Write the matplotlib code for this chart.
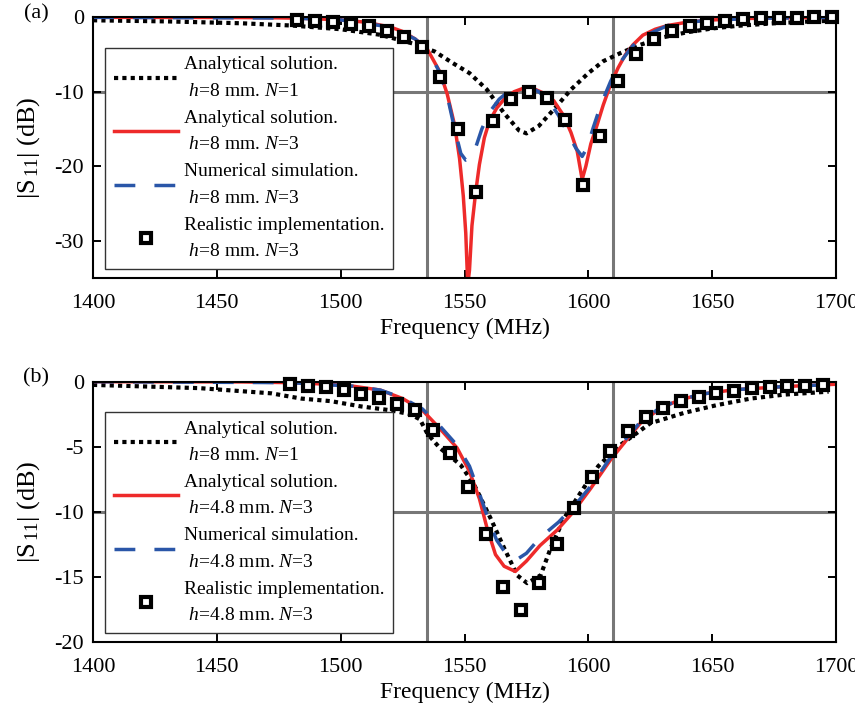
import numpy as np
import matplotlib
matplotlib.use('Agg')
import matplotlib.pyplot as plt

plt.rcParams['font.family'] = ['Liberation Serif', 'DejaVu Serif']
plt.rcParams['mathtext.fontset'] = 'custom'
plt.rcParams['mathtext.rm'] = 'Liberation Serif'
plt.rcParams['mathtext.it'] = 'Liberation Serif:italic'
plt.rcParams['axes.unicode_minus'] = False

# ---------------- Daten Panel (a) ----------------
f_a_n1 = [1400, 1430, 1460, 1480, 1500, 1516, 1530, 1538, 1545, 1552, 1559, 1566, 1572, 1575,
          1580, 1586, 1593, 1600, 1606, 1613, 1620, 1630, 1640, 1650, 1660, 1675, 1690, 1700]
s_a_n1 = [-0.4, -0.55, -0.8, -1.1, -1.6, -2.35, -3.6, -4.6, -6.1, -7.5, -9.7, -12.9, -15.2, -15.6,
          -14.6, -12.4, -9.7, -7.5, -5.9, -4.8, -3.8, -2.7, -2.0, -1.5, -1.15, -0.8, -0.55, -0.45]

f_a_ana = [1400, 1450, 1470, 1480, 1490, 1500, 1510, 1520, 1525, 1530, 1535, 1540, 1543, 1546,
           1548, 1549.5, 1550.5, 1551.3, 1552, 1553, 1554.5, 1556, 1558, 1560, 1563, 1566, 1570,
           1574, 1578, 1582, 1586, 1590, 1593, 1595.5, 1597.5, 1599, 1601, 1603.5, 1606, 1609,
           1612, 1615, 1618, 1622, 1627, 1632, 1640, 1650, 1665, 1680, 1700]
s_a_ana = [0, -0.02, -0.05, -0.1, -0.2, -0.35, -0.65, -1.3, -1.9, -2.9, -4.3, -7.3, -10.3, -14.5,
           -19, -24, -29, -36, -34, -28, -23.5, -19.8, -16.2, -14, -12.2, -11.0, -10.0,
           -9.5, -9.6, -10.2, -11.2, -13.2, -15.5, -18, -21.8, -20.0, -17.0, -14.5, -11.8, -9.0,
           -6.8, -5.0, -3.7, -2.4, -1.6, -1.1, -0.65, -0.35, -0.15, -0.06, 0]

f_a_num = [1400, 1480, 1500, 1520, 1530, 1535, 1540, 1543, 1546, 1548.5, 1550.5, 1552.5, 1554.5,
           1557, 1560, 1564, 1568, 1572, 1576, 1580, 1584, 1588, 1592, 1595, 1597.5, 1599.5, 1602,
           1605, 1609, 1613, 1618, 1624, 1632, 1645, 1665, 1700]
s_a_num = [0, -0.1, -0.35, -1.3, -2.9, -4.3, -7.4, -10.5, -15, -18.3, -19.2, -19, -17.5,
           -15, -12.8, -11, -9.9, -9.3, -9.4, -10, -11.2, -13.2, -15.8, -17.6, -18.7, -17.5, -14.8,
           -11.8, -8.6, -6, -3.8, -2.3, -1.1, -0.5, -0.15, 0]

f_a_meas = [1482.5, 1489.7, 1496.9, 1504.1, 1511.3, 1518.5, 1525.7, 1532.9, 1540.1, 1547.3,
            1554.5, 1561.7, 1568.9, 1576.1, 1583.3, 1590.5, 1597.7, 1604.9, 1612.1, 1619.3,
            1626.5, 1633.7, 1640.9, 1648.1, 1655.3, 1662.5, 1669.7, 1676.9, 1684.1, 1691.3, 1698.5]
s_a_meas = [-0.3, -0.5, -0.65, -0.85, -1.2, -1.8, -2.6, -4.0, -8.0, -15.0,
            -23.5, -14.0, -11.0, -10.1, -10.9, -13.8, -22.6, -15.9, -8.5, -4.9,
            -2.9, -1.8, -1.1, -0.7, -0.45, -0.25, -0.15, -0.08, -0.04, -0.02, -0.02]

# ---------------- Daten Panel (b) ----------------
f_b_n1 = [1400, 1443, 1472, 1484, 1496, 1508, 1520, 1528, 1532, 1535, 1540, 1548.4, 1553.8, 1560.5,
          1566, 1571.3, 1575.3, 1580.7, 1584.8, 1590.2, 1597, 1604, 1612, 1618.5, 1625, 1638.7,
          1652, 1665.6, 1679, 1697]
s_b_n1 = [-0.25, -0.5, -0.9, -1.3, -1.5, -1.9, -2.2, -2.5, -2.9, -4.0, -5.1, -6.4, -7.9, -10.5,
          -12.8, -14.9, -15.5, -14.9, -12.8, -10.5, -8.5, -6.5, -5.0, -4.1, -3.2, -2.4,
          -1.8, -1.3, -1.0, -0.77]

f_b_ana = [1400, 1460, 1480, 1495, 1505, 1516, 1525, 1533, 1540, 1547, 1552, 1556, 1559, 1562.5,
           1566, 1570.5, 1575, 1580.5, 1587.5, 1594, 1601, 1609, 1616, 1621, 1629, 1637, 1646,
           1659, 1679, 1700]
s_b_ana = [0, -0.02, -0.08, -0.2, -0.35, -0.65, -1.3, -2.2, -3.6, -5.1, -6.9, -9.0, -11.2, -13.3,
           -14.2, -14.6, -13.8, -12.6, -11.4, -10.0, -8.2, -6.0, -4.35, -3.2, -2.05, -1.4, -0.95,
           -0.62, -0.38, -0.2]

f_b_num = [1400, 1480, 1505, 1516, 1525, 1533, 1540, 1547, 1552, 1556, 1560, 1563, 1567, 1571,
           1575, 1580.5, 1588, 1595.5, 1602, 1609, 1616, 1621, 1629, 1637, 1646, 1659, 1679, 1700]
s_b_num = [0, -0.08, -0.35, -0.65, -1.25, -2.1, -3.4, -4.9, -6.5, -8.6, -10.8, -12.2, -13.3, -13.7,
           -13.2, -12.0, -10.8, -9.3, -7.8, -5.8, -4.2, -3.1, -2.0, -1.4, -0.95, -0.62, -0.38, -0.2]

f_b_meas = [1479.7, 1486.9, 1494.0, 1501.2, 1508.4, 1515.6, 1522.7, 1529.9, 1537.1, 1544.2,
            1551.4, 1558.6, 1565.7, 1572.9, 1580.1, 1587.2, 1594.4, 1601.6, 1608.7, 1615.9,
            1623.1, 1630.2, 1637.4, 1644.6, 1651.7, 1658.9, 1666.1, 1673.3, 1680.4, 1687.6, 1694.8]
s_b_meas = [-0.2, -0.3, -0.43, -0.64, -0.95, -1.28, -1.7, -2.15, -3.7, -5.5,
            -8.1, -11.7, -15.8, -17.6, -15.5, -12.5, -9.7, -7.3, -5.3, -3.8,
            -2.7, -2.0, -1.5, -1.15, -0.9, -0.7, -0.5, -0.38, -0.33, -0.3, -0.25]

# Band-Grenzen und -10 dB Linie
band_lo, band_hi = 1535, 1610
ref_db = -10

RED = '#ee2a2a'
BLUE = '#2a56a8'
GREY = '#777777'


def panel(ax, data, labels, ylim, yticks):
    (f1, s1), (f2, s2), (f3, s3), (f4, s4) = data
    ax.axvline(band_lo, color=GREY, lw=2.2, zorder=1.5)
    ax.axvline(band_hi, color=GREY, lw=2.2, zorder=1.5)
    ax.axhline(ref_db, color=GREY, lw=2.2, zorder=1.5)
    ax.plot(f1, s1, color='black', lw=3, linestyle=(0, (1, 1)), label=labels[0])
    ax.plot(f2, s2, color=RED, lw=2.5, label=labels[1])
    ax.plot(f3, s3, color=BLUE, lw=2.5, linestyle=(0, (6, 5.5)), label=labels[2])
    ax.plot(f4, s4, 's', ms=7.8, mew=3.0, mec='black', mfc='white', clip_on=False,
            label=labels[3], zorder=3)
    ax.set_xlim(1400, 1700)
    ax.set_ylim(*ylim)
    ax.set_xticks(np.arange(1400, 1701, 50))
    ax.set_yticks(yticks)
    ax.tick_params(direction='in', top=True, right=True, length=5.5, width=1.4,
                   labelsize=16, pad=6.5)
    ax.tick_params(axis='x', pad=12)
    for sp in ax.spines.values():
        sp.set_linewidth(1.5)
    ax.set_xlabel('Frequency (MHz)', fontsize=17, labelpad=3)
    ax.set_ylabel(r'|S$_{\,11}$| (dB)', fontsize=19, labelpad=9)
    leg = ax.legend(loc='upper left', bbox_to_anchor=(0.016, 0.884), borderaxespad=0,
                    fontsize=14, frameon=True, fancybox=False, framealpha=1,
                    edgecolor='#333333', handlelength=3.3, handletextpad=0.3,
                    labelspacing=0.52, borderpad=0.45, numpoints=1)
    leg.get_frame().set_linewidth(1.0)
    for t in leg.get_texts():
        t.set_linespacing(1.72)
    return leg


fig = plt.figure(figsize=(8.55, 7.07), dpi=100)
ax_a = fig.add_axes([0.1088, 0.6072, 0.869, 0.3683])
ax_b = fig.add_axes([0.1088, 0.0924, 0.869, 0.3678])

labels_a = ['Analytical solution.\n $h$=8 mm. $N$=1',
            'Analytical solution.\n $h$=8 mm. $N$=3',
            'Numerical simulation.\n $h$=8 mm. $N$=3',
            'Realistic implementation.\n $h$=8 mm. $N$=3']
labels_b = ['Analytical solution.\n $h$=8 mm. $N$=1',
            'Analytical solution.\n $h$=4.8 mm. $N$=3',
            'Numerical simulation.\n $h$=4.8 mm. $N$=3',
            'Realistic implementation.\n $h$=4.8 mm. $N$=3']

panel(ax_a, [(f_a_n1, s_a_n1), (f_a_ana, s_a_ana), (f_a_num, s_a_num), (f_a_meas, s_a_meas)],
      labels_a, (-35, 0), [-30, -20, -10, 0])
panel(ax_b, [(f_b_n1, s_b_n1), (f_b_ana, s_b_ana), (f_b_num, s_b_num), (f_b_meas, s_b_meas)],
      labels_b, (-20, 0), [-20, -15, -10, -5, 0])

fig.text(36 / 855, 1 - 14 / 707, '(a)', fontsize=16, ha='center', va='center')
fig.text(36 / 855, 1 - 378 / 707, '(b)', fontsize=16, ha='center', va='center')

fig.savefig('out.png', dpi=100)
